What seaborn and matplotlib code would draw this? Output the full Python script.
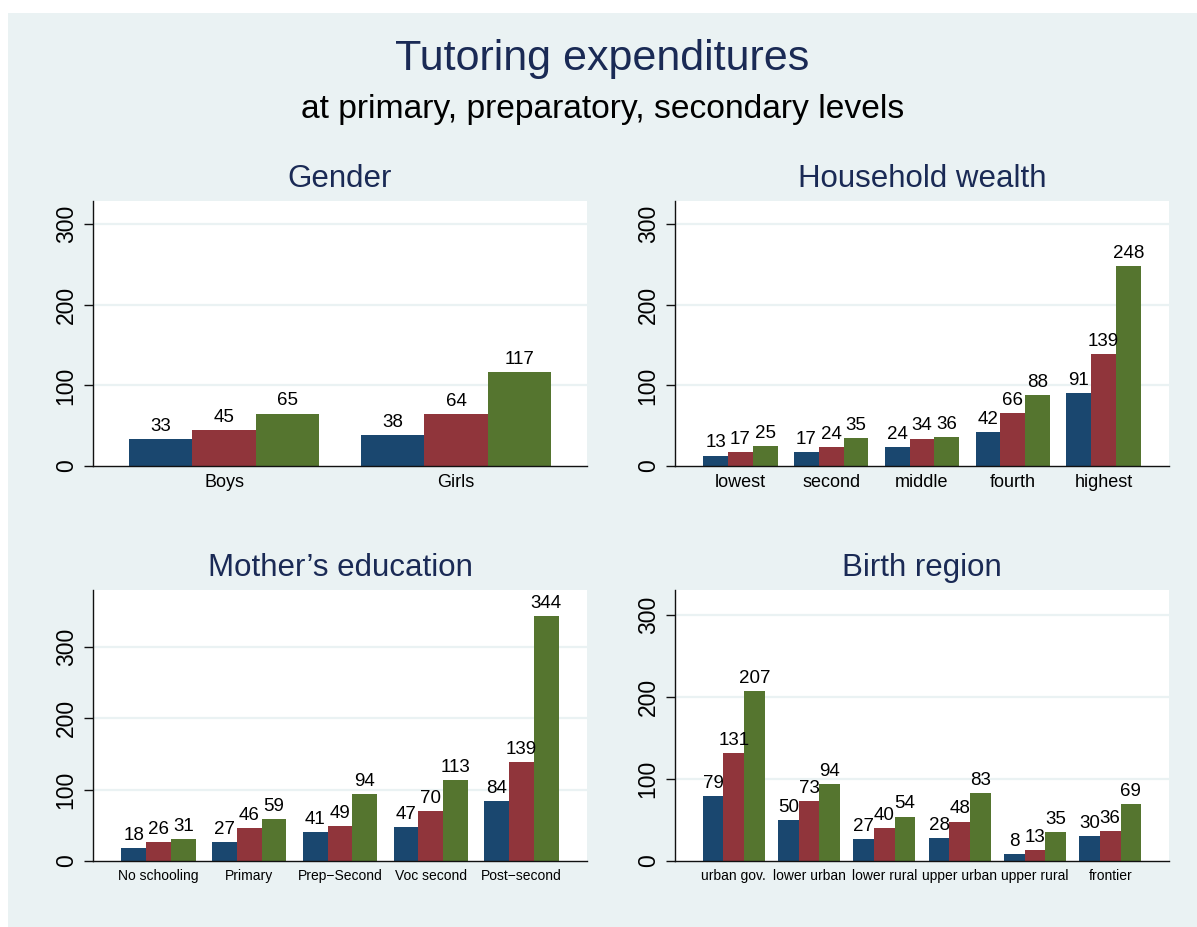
import matplotlib
matplotlib.use("Agg")
import matplotlib.pyplot as plt
from matplotlib.patches import Rectangle
import seaborn as sns
import pandas as pd

# ---------------- data ----------------
series = ["Primary", "Preparatory", "Secondary"]

gender_cats = ["Boys", "Girls"]
gender_primary = [33, 38]
gender_prep = [45, 64]
gender_secondary = [65, 117]

wealth_cats = ["lowest", "second", "middle", "fourth", "highest"]
wealth_primary = [13, 17, 24, 42, 91]
wealth_prep = [17, 24, 34, 66, 139]
wealth_secondary = [25, 35, 36, 88, 248]

mother_cats = ["No schooling", "Primary", "Prep\u2212Second", "Voc second", "Post\u2212second"]
mother_primary = [18, 27, 41, 47, 84]
mother_prep = [26, 46, 49, 70, 139]
mother_secondary = [31, 59, 94, 113, 344]

region_cats = ["urban gov.", "lower urban", "lower rural", "upper urban", "upper rural", "frontier"]
region_primary = [79, 50, 27, 28, 8, 30]
region_prep = [131, 73, 40, 48, 13, 36]
region_secondary = [207, 94, 54, 83, 35, 69]

yticks = [0, 100, 200, 300]

# ---------------- style ----------------
sns.set_style("white")
plt.rcParams["font.family"] = ["Liberation Sans", "DejaVu Sans"]

BG = "#EAF2F3"
NAVY_T = "#1A2A55"
palette = ["#1A476F", "#90353B", "#55752F"]

W, H = 1197, 927
fig = plt.figure(figsize=(W / 100, H / 100), dpi=100)
fig.patch.set_facecolor("white")
fig.patches.append(Rectangle((8 / W, 0), 1 - 8 / W, 1 - 13 / H,
                             transform=fig.transFigure, facecolor=BG,
                             edgecolor="none", zorder=-10))


def long_df(cats, a, b, c):
    rows = []
    for vals, s in zip([a, b, c], series):
        for cat, v in zip(cats, vals):
            rows.append({"cat": cat, "series": s, "value": v})
    return pd.DataFrame(rows)


def panel(box, title, title_base, cats, a, b, c, ymax, margin, xfs):
    l, t, r, btm = box
    ax = fig.add_axes([l / W, 1 - btm / H, (r - l) / W, (btm - t) / H])
    df = long_df(cats, a, b, c)
    sns.barplot(data=df, x="cat", y="value", hue="series", order=cats,
                hue_order=series, palette=palette, width=0.82, saturation=1,
                legend=False, ax=ax, linewidth=0, edgecolor="none")
    ax.set_facecolor("white")
    ax.set_xlim(-margin, len(cats) - 1 + margin)
    ax.set_ylim(0, ymax)
    ax.set_yticks(yticks)
    ax.set_xlabel("")
    ax.set_ylabel("")
    for y in yticks[1:]:
        ax.axhline(y, color=BG, lw=1.6, zorder=0.5)
    for sp in ["top", "right"]:
        ax.spines[sp].set_visible(False)
    for sp in ["left", "bottom"]:
        ax.spines[sp].set_color("#111111")
        ax.spines[sp].set_linewidth(1.0)
    ax.tick_params(axis="y", length=6.5, width=1, color="#111111",
                   labelsize=16.5, pad=4.5, labelrotation=90, left=True,
                   labelcolor="black")
    for lab in ax.get_yticklabels():
        lab.set_va("center")
    ax.tick_params(axis="x", length=0, labelsize=xfs, pad=6, labelcolor="black")
    for cont in ax.containers:
        ax.bar_label(cont, fmt="%g", padding=3, fontsize=13.5, color="black")
    fig.text((l + r) / 2 / W, 1 - title_base / H, title, ha="center",
             va="baseline", fontsize=22.5, color=NAVY_T)
    return ax


panel((93, 201, 587, 466), "Gender", 187, gender_cats,
      gender_primary, gender_prep, gender_secondary, 329, 0.565, 13)
panel((675, 201, 1169, 466), "Household wealth", 187, wealth_cats,
      wealth_primary, wealth_prep, wealth_secondary, 329, 0.722, 13)
panel((93, 590, 587, 861), "Mother\u2019s education", 576, mother_cats,
      mother_primary, mother_prep, mother_secondary, 380, 0.722, 10)
panel((675, 590, 1169, 861), "Birth region", 576, region_cats,
      region_primary, region_prep, region_secondary, 330, 0.78, 10)

fig.text(0.5 * (8 + W) / W, 1 - 70 / H, "Tutoring expenditures", ha="center",
         va="baseline", fontsize=31, color=NAVY_T)
fig.text(0.5 * (8 + W) / W, 1 - 118 / H, "at primary, preparatory, secondary levels",
         ha="center", va="baseline", fontsize=24.2, color="black")

fig.savefig("out.png", dpi=100, facecolor=fig.get_facecolor())
